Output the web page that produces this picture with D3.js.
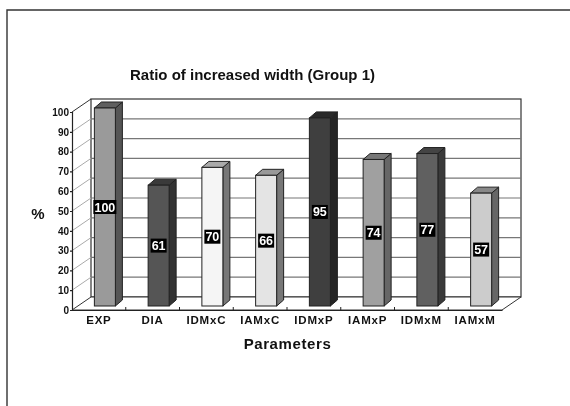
<!DOCTYPE html>
<html>
<head>
<meta charset="utf-8">
<script src="https://cdn.jsdelivr.net/npm/d3@7"></script>
<style>
  html, body { margin: 0; padding: 0; background: #fff; }
  svg { display: block; font-family: "Liberation Sans", Arial, sans-serif; filter: blur(0.35px); }
  text { font-weight: bold; fill: #111; }
</style>
</head>
<body>
<div id="chart"></div>
<script>
// Values
const categories = ['EXP', 'DIA', 'IDMxC', 'IAMxC', 'IDMxP', 'IAMxP', 'IDMxM', 'IAMxM'];
const values = [100, 61, 70, 66, 95, 74, 77, 57];
const yTicks = [0, 10, 20, 30, 40, 50, 60, 70, 80, 90, 100];

// Bar shades: front, side and top faces
const frontColors = ['#9a9a9a', '#555555', '#f5f5f5', '#e4e4e4', '#3f3f3f', '#a0a0a0', '#606060', '#cccccc'];
const sideColors = ['#555555', '#333333', '#777777', '#777777', '#252525', '#666666', '#3a3a3a', '#666666'];
const topColors = ['#5f5f5f', '#3a3a3a', '#aaaaaa', '#999999', '#2a2a2a', '#777777', '#444444', '#888888'];

const width = 570, height = 406;
const left = 72, right = 502, top0 = 112, bottom = 310;
const wallX = 19, wallY = 13;    // depth of the chart box
const barDepthX = 7, barDepthY = 6, barWidth = 21;
const barShiftX = 6, barShiftY = 4;   // bars stand inside the floor

const svg = d3.select('#chart').append('svg').attr('width', width).attr('height', height);

// Page frame, open to the right and below
svg.append('path').attr('d', 'M7,406V10H570').attr('fill', 'none').attr('stroke', '#333').attr('stroke-width', 1.4);

const scaleX = d3.scaleBand().domain(categories).range([left, right]);
const scaleY = d3.scaleLinear().domain([0, 100]).range([bottom, top0]);
const front = d3.scaleOrdinal().domain(categories).range(frontColors);
const side = d3.scaleOrdinal().domain(categories).range(sideColors);
const roof = d3.scaleOrdinal().domain(categories).range(topColors);

// Back wall and left wall
const walls = svg.append('g');
walls.append('rect')
  .attr('x', left + wallX).attr('y', scaleY(100) - wallY)
  .attr('width', right - left).attr('height', bottom - top0)
  .attr('fill', '#fff').attr('stroke', '#333').attr('stroke-width', 1.2);

// Gridlines on the back wall and diagonals on the left wall
const grid = walls.selectAll('.grid').data(yTicks.slice(1, -1)).join('g').attr('class', 'grid');
grid.append('line')
  .attr('x1', left + wallX).attr('x2', right + wallX)
  .attr('y1', d => scaleY(d) - wallY).attr('y2', d => scaleY(d) - wallY)
  .attr('stroke', '#777').attr('stroke-width', 1.2);
walls.selectAll('.diag').data(yTicks.slice(1)).join('line').attr('class', 'diag')
  .attr('x1', left).attr('x2', left + wallX)
  .attr('y1', d => scaleY(d)).attr('y2', d => scaleY(d) - wallY)
  .attr('stroke', d => d === 100 ? '#333' : '#aaa').attr('stroke-width', 1);

// Floor
walls.append('path')
  .attr('d', `M${left},${bottom}L${left + wallX},${bottom - wallY}H${right + wallX}L${right},${bottom}Z`)
  .attr('fill', '#fff').attr('stroke', '#333').attr('stroke-width', 1);

// Axes
const axisY = svg.append('g').attr('transform', `translate(${left},0)`)
  .call(d3.axisLeft(scaleY).tickValues(yTicks).tickSize(2).tickPadding(1));
const axisX = svg.append('g').attr('transform', `translate(0,${bottom})`)
  .call(d3.axisBottom(scaleX).tickSize(0).tickPadding(6));
axisY.selectAll('path, line').attr('stroke', '#222').attr('stroke-width', 1.2);
axisX.selectAll('.domain').attr('stroke', '#222').attr('stroke-width', 1.2);
axisY.selectAll('text').attr('font-size', 10).attr('font-family', '"Liberation Sans", Arial, sans-serif');
axisX.selectAll('text').attr('font-size', 11.5).attr('letter-spacing', 0.8)
  .attr('font-family', '"Liberation Sans", Arial, sans-serif');

// Small ticks between the categories, pointing up
svg.append('g').selectAll('line').data(categories.slice(1)).join('line')
  .attr('x1', d => scaleX(d)).attr('x2', d => scaleX(d))
  .attr('y1', bottom).attr('y2', bottom - 3)
  .attr('stroke', '#222');

// Bars
const bars = svg.append('g').selectAll('g').data(categories).join('g');
const barX = d => scaleX(d) + scaleX.bandwidth() / 2 + barShiftX - barWidth / 2;
const barTop = (d, i) => scaleY(values[i]) - barShiftY;
const barBase = bottom - barShiftY;

bars.append('path') // side
  .attr('d', (d, i) => {
    const x = barX(d) + barWidth, t = barTop(d, i);
    return `M${x},${t}L${x + barDepthX},${t - barDepthY}V${barBase - barDepthY}L${x},${barBase}Z`;
  })
  .attr('fill', d => side(d)).attr('stroke', '#222').attr('stroke-width', 1);
bars.append('path') // top
  .attr('d', (d, i) => {
    const x = barX(d), t = barTop(d, i);
    return `M${x},${t}L${x + barDepthX},${t - barDepthY}H${x + barWidth + barDepthX}L${x + barWidth},${t}Z`;
  })
  .attr('fill', d => roof(d)).attr('stroke', '#222').attr('stroke-width', 1);
bars.append('rect') // front
  .attr('x', barX).attr('y', barTop)
  .attr('width', barWidth).attr('height', (d, i) => barBase - barTop(d, i))
  .attr('fill', d => front(d)).attr('stroke', '#222').attr('stroke-width', 1);

// Value labels, white on a black box
bars.append('rect')
  .attr('x', (d, i) => barX(d) + barWidth / 2 - (values[i] === 100 ? 11.5 : 8))
  .attr('y', (d, i) => (barTop(d, i) + barBase) / 2 - 7)
  .attr('width', (d, i) => values[i] === 100 ? 23 : 16)
  .attr('height', 14)
  .attr('fill', '#000');
bars.append('text')
  .attr('x', d => barX(d) + barWidth / 2)
  .attr('y', (d, i) => (barTop(d, i) + barBase) / 2 + 4.5)
  .attr('text-anchor', 'middle').attr('font-size', 12.5)
  .style('fill', '#fff')
  .text((d, i) => values[i]);

// Titles
svg.append('text').attr('x', 252.5).attr('y', 80).attr('text-anchor', 'middle')
  .attr('font-size', 15).text('Ratio of increased width (Group 1)');
svg.append('text').attr('x', 287.5).attr('y', 349).attr('text-anchor', 'middle')
  .attr('font-size', 15).attr('letter-spacing', 0.6).text('Parameters');
svg.append('text').attr('x', 38).attr('y', 219).attr('text-anchor', 'middle')
  .attr('font-size', 15).text('%');
</script>
</body>
</html>
